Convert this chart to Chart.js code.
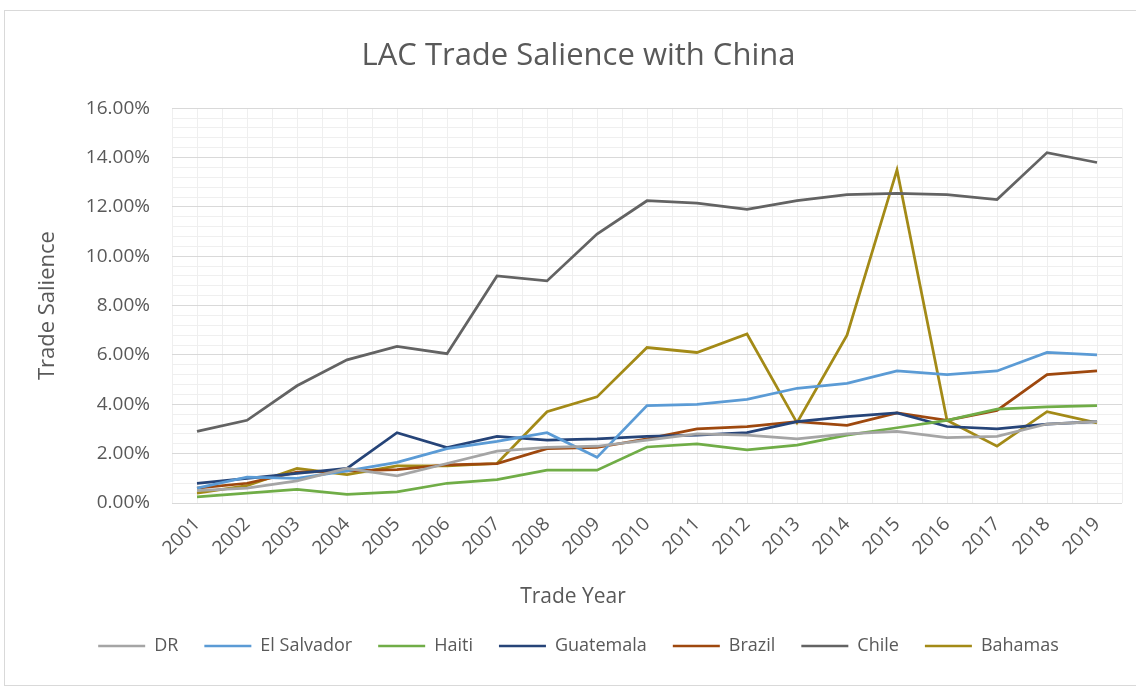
<!DOCTYPE html>
<html>
<head>
<meta charset="utf-8">
<script src="https://cdn.jsdelivr.net/npm/chart.js@4"></script>
<style>
  html, body { margin: 0; padding: 0; background: #fff; }
  #wrap { position: relative; width: 1136px; height: 692px; }
  #frame { position: absolute; left: 4px; top: 10px; width: 1140px; height: 676px; border: 1px solid #d9d9d9; box-sizing: border-box; }
  canvas { position: absolute; left: 0; top: 0; }
</style>
</head>
<body>
<div id="wrap">
  <div id="frame"></div>
  <canvas id="chart" width="1136" height="692"></canvas>
</div>
<script>
const YEARS = ["2001", "2002", "2003", "2004", "2005", "2006", "2007", "2008", "2009", "2010",
  "2011", "2012", "2013", "2014", "2015", "2016", "2017", "2018", "2019"];

// values in percent
const DR = [0.5, 0.6, 0.9, 1.4, 1.1, 1.6, 2.1, 2.25, 2.3, 2.55, 2.8, 2.75, 2.6, 2.8, 2.9, 2.65, 2.7, 3.2, 3.3];
const EL_SALVADOR = [0.6, 1.05, 1.0, 1.3, 1.65, 2.2, 2.5, 2.85, 1.85, 3.95, 4.0, 4.2, 4.65, 4.85, 5.35, 5.2, 5.35, 6.1, 6.0];
const HAITI = [0.25, 0.4, 0.55, 0.35, 0.45, 0.8, 0.95, 1.33, 1.33, 2.27, 2.4, 2.15, 2.35, 2.75, 3.05, 3.35, 3.8, 3.9, 3.95];
const GUATEMALA = [0.8, 1.0, 1.2, 1.4, 2.85, 2.25, 2.7, 2.55, 2.6, 2.7, 2.75, 2.85, 3.3, 3.5, 3.65, 3.1, 3.0, 3.2, 3.3];
const BRAZIL = [0.6, 0.8, 1.25, 1.3, 1.35, 1.55, 1.6, 2.2, 2.25, 2.6, 3.0, 3.1, 3.3, 3.15, 3.65, 3.35, 3.75, 5.2, 5.35];
const CHILE = [2.9, 3.35, 4.75, 5.8, 6.35, 6.05, 9.2, 9.0, 10.9, 12.25, 12.15, 11.9, 12.25, 12.5, 12.55, 12.5, 12.3, 14.2, 13.8];
const BAHAMAS = [0.4, 0.7, 1.4, 1.15, 1.5, 1.5, 1.6, 3.7, 4.3, 6.3, 6.1, 6.85, 3.25, 6.8, 13.5, 3.35, 2.3, 3.7, 3.25];

const SERIES = [
  ["DR", DR, "#a5a5a5"],
  ["El Salvador", EL_SALVADOR, "#5b9bd5"],
  ["Haiti", HAITI, "#70ad47"],
  ["Guatemala", GUATEMALA, "#264478"],
  ["Brazil", BRAZIL, "#9e480e"],
  ["Chile", CHILE, "#636363"],
  ["Bahamas", BAHAMAS, "#a38a17"],
];

const FONT = "'Open Sans', 'Noto Sans', sans-serif";
const TEXT = "#595959";

const datasets = SERIES.map(([label, data, color]) => ({
  label, data,
  borderColor: color,
  backgroundColor: color,
  borderWidth: 2.75,
  pointRadius: 0,
  tension: 0,
  xAxisID: "x",
  yAxisID: "y",
}));

// Excel had the x-axis title dragged left of centre, so draw it by hand
const xTitle = {
  id: "xTitle",
  afterDraw(chart) {
    const { ctx } = chart;
    ctx.save();
    ctx.fillStyle = TEXT;
    ctx.font = `21px ${FONT}`;
    ctx.textAlign = "center";
    ctx.textBaseline = "middle";
    ctx.fillText("Trade Year", 573, 597);
    ctx.restore();
  },
};

new Chart(document.getElementById("chart"), {
  type: "line",
  data: { labels: YEARS, datasets },
  plugins: [xTitle],
  options: {
    responsive: false,
    animation: false,
    layout: { padding: { left: 35, right: 14, top: 0, bottom: 27 } },
    plugins: {
      title: {
        display: true,
        text: "LAC Trade Salience with China",
        color: TEXT,
        font: { family: FONT, size: 31, weight: "normal" },
        padding: { top: 38, bottom: 33 },
      },
      legend: {
        position: "bottom",
        labels: {
          color: TEXT,
          font: { family: FONT, size: 18 },
          boxWidth: 47,
          boxHeight: 2.5,
          padding: 26,
          generateLabels(chart) {
            return Chart.defaults.plugins.legend.labels.generateLabels(chart).map(l => ({ ...l, lineWidth: 0 }));
          },
        },
      },
      tooltip: { enabled: false },
    },
    scales: {
      x: {
        type: "category",
        offset: true,
        grid: { offset: true, color: "#efefef", drawTicks: false },
        border: { display: false },
        ticks: { color: TEXT, font: { family: FONT, size: 19 }, minRotation: 45, maxRotation: 45, padding: 10 },
        afterFit(scale) { scale.height = 108; },
      },
      xMinor: {
        type: "category",
        labels: YEARS,
        position: "bottom",
        offset: true,
        grid: { offset: false, color: "#efefef", drawTicks: false },
        border: { display: false },
        ticks: { display: false },
        afterFit(scale) { scale.height = 0; },
      },
      y: {
        min: 0, max: 16,
        ticks: { stepSize: 2, color: TEXT, font: { family: FONT, size: 19 }, padding: 22, callback: v => v.toFixed(2) + "%" },
        grid: { color: "#d9d9d9", drawTicks: false },
        border: { display: false },
        title: { display: true, text: "Trade Salience", color: TEXT, font: { family: FONT, size: 22 }, padding: { top: 0, bottom: 0 } },
        afterFit(scale) { scale.width = 137; },
      },
      yMinor: {
        type: "linear",
        position: "left",
        min: 0, max: 16,
        ticks: { display: false, stepSize: 0.4 },
        grid: {
          drawTicks: false,
          color: ctx => (ctx.index % 5 === 0 ? "rgba(0,0,0,0)" : "#efefef"),
        },
        border: { display: false },
        afterFit(scale) { scale.width = 0; },
      },
    },
  },
});
</script>
</body>
</html>
